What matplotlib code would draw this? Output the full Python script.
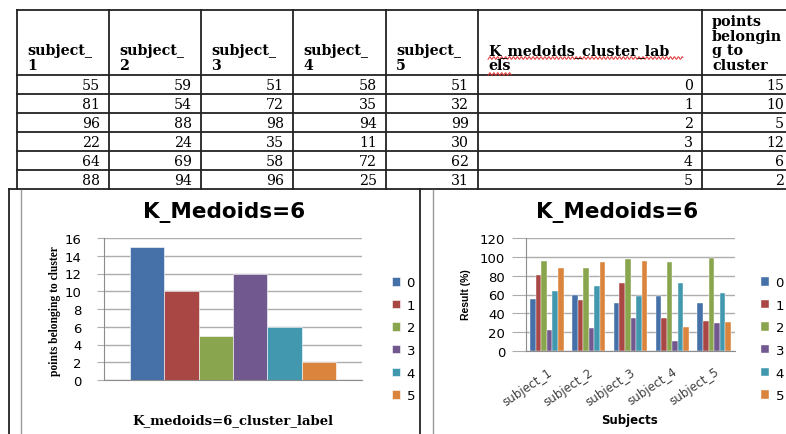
import matplotlib
matplotlib.use("Agg")
import numpy as np
import matplotlib.pyplot as plt

W, H = 786, 435

subjects = ["subject_1", "subject_2", "subject_3", "subject_4", "subject_5"]
cluster_labels = [0, 1, 2, 3, 4, 5]
points_in_cluster = [15, 10, 5, 12, 6, 2]
# medoid value of each cluster (rows) for each subject (columns)
medoid_scores = [
    [55, 59, 51, 58, 51],
    [81, 54, 72, 35, 32],
    [96, 88, 98, 94, 99],
    [22, 24, 35, 11, 30],
    [64, 69, 58, 72, 62],
    [88, 94, 96, 25, 31],
]
header = ["subject_\n1", "subject_\n2", "subject_\n3", "subject_\n4", "subject_\n5",
          "K_medoids_cluster_lab\nels", "points\nbelongin\ng to\ncluster"]

colors = ["#4570A8", "#A94744", "#89A54E", "#71588F", "#4298AF", "#DB843D"]
grid_c = "#ADADAD"


def frac(x0, y0, x1, y1):
    # pixel box (top-left origin) -> figure fraction rect
    return [x0 / W, 1 - y1 / H, (x1 - x0) / W, (y1 - y0) / H]


fig = plt.figure(figsize=(W / 100, H / 100), dpi=100)
bg = fig.add_axes([0, 0, 1, 1])
bg.set_xlim(0, W); bg.set_ylim(H, 0); bg.axis("off")

# ---- table ----
col_x = [17, 109, 201, 293, 386, 478, 702, 793]
row_y = [11, 76, 95, 114, 133, 152, 171, 190]
lc = "#222222"
for x in col_x[:-1]:
    bg.plot([x, x], [row_y[0], row_y[-1]], color=lc, lw=1.3)
for y in row_y[:-1]:
    bg.plot([col_x[0], W], [y, y], color=lc, lw=1.3)
bg.plot([9, W], [190, 190], color=lc, lw=1.3)

for j, h in enumerate(header):
    bg.text(col_x[j] + 10, 73, h, ha="left", va="bottom", family="DejaVu Serif",
            fontweight="bold", fontsize=10.3, linespacing=1.05)
table_rows = [row + [lab, pts] for row, lab, pts in zip(medoid_scores, cluster_labels, points_in_cluster)]
for i, row in enumerate(table_rows):
    yc = (row_y[i + 1] + row_y[i + 2]) / 2
    for j, v in enumerate(row):
        bg.text(col_x[j + 1] - 9, yc + 0.5, str(v), ha="right", va="center",
                family="DejaVu Serif", fontsize=10.2)

# spell-check squiggle under the long header
for xa, xb, yy in [(488, 683, 59), (488, 511, 75)]:
    xs = np.linspace(xa, xb, int((xb - xa) * 2))
    bg.plot(xs, yy + 1.3 * np.sin(xs * 1.6), color="#E03030", lw=0.7)

# chart frames
for x in (9, 420):
    bg.plot([x, x], [190, H], color=lc, lw=1.3)
for x in (21, 433):
    bg.plot([x, x], [191, H], color="#999999", lw=1.0)


def style(ax, tick_len, tick_pad):
    for s in ("top", "right"):
        ax.spines[s].set_visible(False)
    for s in ("left", "bottom"):
        ax.spines[s].set_color("#8C8C8C")
    ax.yaxis.grid(True, color=grid_c, lw=1.0)
    ax.set_axisbelow(True)
    ax.tick_params(axis="y", length=tick_len, color=grid_c, labelsize=9.5, pad=tick_pad)
    ax.tick_params(axis="x", length=0)


leg_kw = dict(loc="upper left", bbox_transform=fig.transFigure, frameon=False,
              borderpad=0, handlelength=0.6, handleheight=0.6, handletextpad=0.5,
              labelspacing=0.73, fontsize=9.5, borderaxespad=0)

# ---- left chart: points per cluster ----
ax1 = fig.add_axes(frac(104, 239, 362, 381))
style(ax1, 5, 11)
h1 = [ax1.bar(i, p, width=1.0, color=c, edgecolor="#ffffff", linewidth=0.4)
      for i, p, c in zip(range(6), points_in_cluster, colors)]
ax1.set_xlim(-1.25, 6.25)
ax1.set_ylim(0, 16)
ax1.set_yticks(range(0, 17, 2))
ax1.set_xticks([])
fig.text(224 / W, 1 - 213 / H, "K_Medoids=6", ha="center", va="center",
         fontsize=15.5, fontweight="bold")
fig.text(55 / W, 1 - 311 / H, "points belonging to cluster", rotation=90, ha="center",
         va="center", family="Liberation Serif", fontweight="bold", fontsize=8.3)
fig.text(233 / W, 1 - 421 / H, "K_medoids=6_cluster_label", ha="center", va="center",
         family="DejaVu Serif", fontweight="bold", fontsize=9.5)
ax1.legend(h1, [str(c) for c in cluster_labels], bbox_to_anchor=(392 / W, 1 - 277 / H), **leg_kw)

# ---- right chart: medoid scores per subject ----
ax2 = fig.add_axes(frac(526, 239, 735, 352))
style(ax2, 10, 5)
x = np.arange(len(subjects))
bw = 1 / 7.5
h2 = []
for k, (vals, c) in enumerate(zip(medoid_scores, colors)):
    h2.append(ax2.bar(x + (k - 2.5) * bw, vals, width=bw, color=c,
                      edgecolor="#ffffff", linewidth=0.3))
ax2.set_xlim(-0.5, 4.5)
ax2.set_ylim(0, 120)
ax2.set_yticks(range(0, 121, 20))
ax2.set_xticks(x)
ax2.set_xticklabels(subjects, rotation=34, ha="right", rotation_mode="anchor",
                    fontsize=8.6, color="#404040")
ax2.tick_params(axis="x", pad=10)
fig.text(617 / W, 1 - 213 / H, "K_Medoids=6", ha="center", va="center",
         fontsize=15.5, fontweight="bold")
fig.text(466 / W, 1 - 295 / H, "Result (%)", rotation=90, ha="center", va="center",
         family="Liberation Sans", fontweight="bold", fontsize=7.5)
fig.text(630 / W, 1 - 421 / H, "Subjects", ha="center", va="center",
         fontweight="bold", fontsize=8.5)
ax2.legend(h2, [str(c) for c in cluster_labels], bbox_to_anchor=(761 / W, 1 - 277 / H), **leg_kw)

fig.savefig("out.png", dpi=100)
